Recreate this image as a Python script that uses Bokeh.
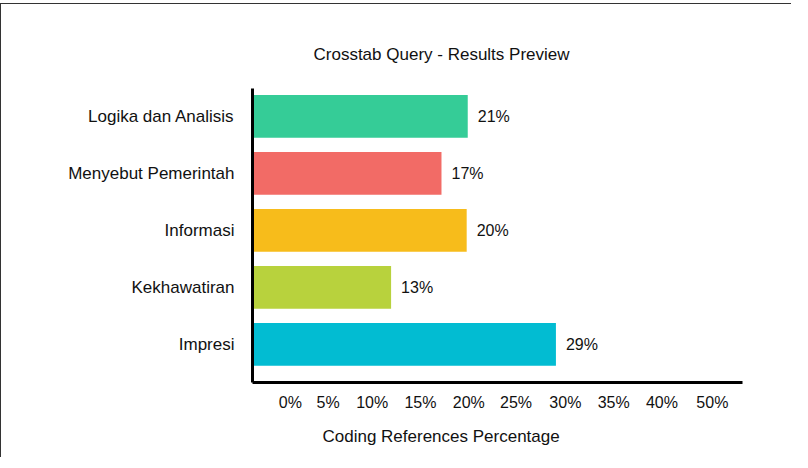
from bokeh.plotting import figure
from bokeh.models import Range1d, FixedTicker, Title, ColumnDataSource
from bokeh.core.properties import value
from bokeh.embed import file_html
from bokeh.resources import INLINE

# ---- data ----
categories = ["Logika dan Analisis", "Menyebut Pemerintah", "Informasi", "Kekhawatiran", "Impresi"]
bar_values = [20.5, 18.0, 20.4, 13.2, 28.9]
value_labels = ["21%", "17%", "20%", "13%", "29%"]
bar_colors = ["#35CC97", "#F26B66", "#F7BC1B", "#B8D23D", "#02BCD2"]
x_tick_pos = [3.6, 7.2, 11.4, 16.0, 20.6, 25.1, 29.8, 34.4, 39.0, 43.8]
x_tick_labels = ["0%", "5%", "10%", "15%", "20%", "25%", "30%", "35%", "40%", "50%"]

FONT = "Liberation Sans"
positions = list(range(len(categories)))
src = ColumnDataSource(dict(y=positions, right=bar_values, color=bar_colors, label=value_labels))

p = figure(width=791, height=454, output_backend="svg", toolbar_location=None,
           x_range=Range1d(0, 46.67), y_range=Range1d(4.667, -0.49),
           min_border_left=251, min_border_right=50, min_border_top=84, min_border_bottom=76,
           title="Crosstab Query - Results Preview")
p.styles = {"margin-top": "3px", "margin-bottom": "-6px",
            "border-top": "1px solid #333333", "border-left": "1px solid #333333"}

p.hbar(y="y", left=0, right="right", height=0.75, color="color", line_color=None, source=src)
p.text(x="right", y="y", text="label", x_offset=10, text_baseline="middle", text_align="left",
       text_font=value(FONT), text_font_size="16px", text_color="#111111", source=src)

p.title.align = "left"
p.title.offset = 61
p.title.text_font = FONT
p.title.text_font_size = "17px"
p.title.text_font_style = "normal"
p.title.text_color = "#111111"
p.title.standoff = 50

p.add_layout(Title(text="Coding References Percentage", align="left", offset=70,
                   text_font=FONT, text_font_size="17px", text_font_style="normal",
                   text_color="#111111", standoff=23), "below")

p.xgrid.visible = False
p.ygrid.visible = False
p.outline_line_color = None

for ax in (p.xaxis[0], p.yaxis[0]):
    ax.axis_line_width = 3
    ax.axis_line_color = "#000000"
    ax.major_tick_line_color = None
    ax.minor_tick_line_color = None
    ax.major_tick_out = 0
    ax.major_tick_in = 0
    ax.minor_tick_out = 0
    ax.major_label_text_font = FONT
    ax.major_label_text_color = "#111111"

p.xaxis.ticker = FixedTicker(ticks=x_tick_pos)
p.xaxis.major_label_overrides = {t: l for t, l in zip(x_tick_pos, x_tick_labels)}
p.xaxis.major_label_text_font_size = "16px"
p.xaxis.major_label_standoff = 11

p.yaxis.ticker = FixedTicker(ticks=positions)
p.yaxis.major_label_overrides = {i: c for i, c in zip(positions, categories)}
p.yaxis.major_label_text_font_size = "17px"
p.yaxis.major_label_standoff = 18

open("out.html", "w").write(file_html(p, INLINE))
